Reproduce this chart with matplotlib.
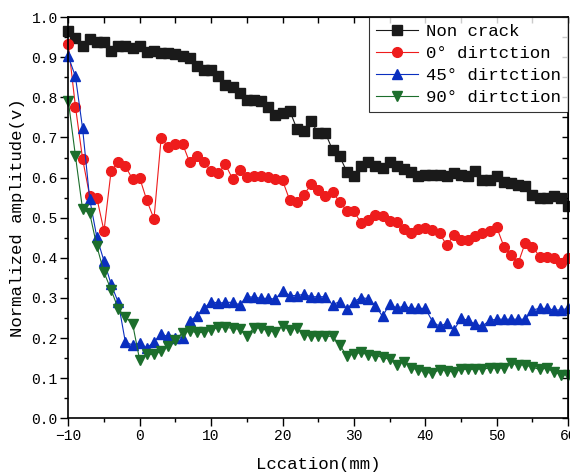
import numpy as np
import matplotlib
matplotlib.use("Agg")
import matplotlib.pyplot as plt
from matplotlib.ticker import MultipleLocator, FormatStrFormatter

plt.rcParams["font.family"] = ["Liberation Mono", "DejaVu Sans Mono"]

location = np.arange(-10, 61)

non_crack = [
    0.965, 0.948, 0.929, 0.946, 0.939, 0.939, 0.916, 0.929, 0.929, 0.923,
    0.929, 0.913, 0.916, 0.910, 0.910, 0.908, 0.904, 0.898, 0.877, 0.869,
    0.869, 0.852, 0.830, 0.827, 0.810, 0.794, 0.794, 0.790, 0.777, 0.756,
    0.761, 0.767, 0.722, 0.717, 0.740, 0.711, 0.711, 0.669, 0.653, 0.615,
    0.603, 0.628, 0.640, 0.628, 0.625, 0.638, 0.630, 0.622, 0.613, 0.603,
    0.607, 0.607, 0.607, 0.603, 0.611, 0.607, 0.605, 0.617, 0.594, 0.594,
    0.604, 0.590, 0.586, 0.582, 0.578, 0.557, 0.549, 0.549, 0.553, 0.549,
    0.528]

dir_0 = [
    0.933, 0.777, 0.647, 0.554, 0.549, 0.467, 0.617, 0.638, 0.628, 0.596,
    0.599, 0.543, 0.497, 0.698, 0.677, 0.684, 0.684, 0.638, 0.655, 0.638,
    0.617, 0.611, 0.633, 0.597, 0.619, 0.601, 0.604, 0.605, 0.602, 0.597,
    0.593, 0.544, 0.540, 0.557, 0.583, 0.568, 0.553, 0.563, 0.540, 0.517,
    0.517, 0.486, 0.495, 0.507, 0.505, 0.493, 0.489, 0.471, 0.461, 0.471,
    0.474, 0.470, 0.461, 0.431, 0.457, 0.445, 0.445, 0.455, 0.461, 0.468,
    0.476, 0.428, 0.407, 0.387, 0.438, 0.428, 0.403, 0.403, 0.399, 0.387,
    0.400]

dir_45 = [
    0.902, 0.852, 0.723, 0.546, 0.451, 0.392, 0.334, 0.289, 0.189, 0.183,
    0.187, 0.175, 0.191, 0.209, 0.204, 0.200, 0.201, 0.243, 0.255, 0.274,
    0.291, 0.287, 0.289, 0.289, 0.283, 0.303, 0.302, 0.299, 0.299, 0.297,
    0.318, 0.306, 0.306, 0.309, 0.303, 0.303, 0.303, 0.283, 0.291, 0.272,
    0.291, 0.301, 0.298, 0.281, 0.254, 0.285, 0.274, 0.280, 0.274, 0.274,
    0.274, 0.241, 0.229, 0.237, 0.220, 0.249, 0.244, 0.234, 0.230, 0.244,
    0.247, 0.247, 0.247, 0.247, 0.247, 0.270, 0.274, 0.274, 0.270, 0.270,
    0.274]

dir_90 = [
    0.792, 0.654, 0.521, 0.511, 0.429, 0.364, 0.320, 0.273, 0.252, 0.236,
    0.145, 0.159, 0.159, 0.167, 0.181, 0.196, 0.213, 0.217, 0.214, 0.214,
    0.220, 0.227, 0.227, 0.224, 0.222, 0.205, 0.226, 0.224, 0.218, 0.216,
    0.230, 0.220, 0.226, 0.208, 0.205, 0.205, 0.205, 0.204, 0.183, 0.156,
    0.160, 0.164, 0.158, 0.156, 0.152, 0.147, 0.133, 0.141, 0.125, 0.121,
    0.115, 0.112, 0.121, 0.119, 0.115, 0.122, 0.122, 0.122, 0.123, 0.125,
    0.125, 0.125, 0.137, 0.133, 0.133, 0.127, 0.122, 0.125, 0.116, 0.108,
    0.108]

labels = ["Non crack", "0° dirtction", "45° dirtction", "90° dirtction"]
colors = ["#1a1a1a", "#ee1c1c", "#0a2fbf", "#1c6e2c"]
markers = ["s", "o", "^", "v"]
sizes = [6.5, 7, 7.5, 7.5]


fig = plt.figure(figsize=(5.7, 4.75), dpi=100)
ax = fig.add_axes([0.1198, 0.1194, 0.877, 0.8446])

for values, label, color, marker, size in zip(
        [non_crack, dir_0, dir_45, dir_90], labels, colors, markers, sizes):
    ax.plot(location, values, color=color, marker=marker, markersize=size,
            markeredgecolor=color, linewidth=0.8, label=label,
            clip_on=False)

ax.set_xlim(-10, 60)
ax.set_ylim(0, 1.0)
ax.xaxis.set_major_locator(MultipleLocator(10))
ax.xaxis.set_minor_locator(MultipleLocator(5))
ax.yaxis.set_major_locator(MultipleLocator(0.1))
ax.yaxis.set_minor_locator(MultipleLocator(0.05))
ax.yaxis.set_major_formatter(FormatStrFormatter("%.1f"))

ax.tick_params(which="both", direction="out", width=1.0, labelsize=10.5,
               pad=2)
ax.tick_params(which="major", length=5.5)
ax.tick_params(which="minor", length=3)

# mirrored ticks pointing inwards on top and right
top = ax.secondary_xaxis("top")
top.xaxis.set_major_locator(MultipleLocator(10))
top.xaxis.set_minor_locator(MultipleLocator(5))
top.tick_params(which="both", direction="in", length=4, width=1.0,
                labeltop=False)
right = ax.secondary_yaxis("right")
right.yaxis.set_major_locator(MultipleLocator(0.1))
right.yaxis.set_minor_locator(MultipleLocator(0.05))
right.tick_params(which="both", direction="in", length=4, width=1.0,
                  labelright=False)

for spine in ax.spines.values():
    spine.set_linewidth(1.2)

ax.set_xlabel("Lccation(mm)", fontsize=12.5, labelpad=10)
ax.set_ylabel("Normalized amplitude(v)", fontsize=12.5, labelpad=5)

legend = ax.legend(loc="upper right", fontsize=12.5, frameon=True,
                   fancybox=False, borderaxespad=0, borderpad=0.4,
                   handlelength=2.4, handletextpad=0.5, labelspacing=0.4)
legend.get_frame().set_edgecolor("black")
legend.get_frame().set_linewidth(0.8)

fig.savefig("out.png", dpi=100)
